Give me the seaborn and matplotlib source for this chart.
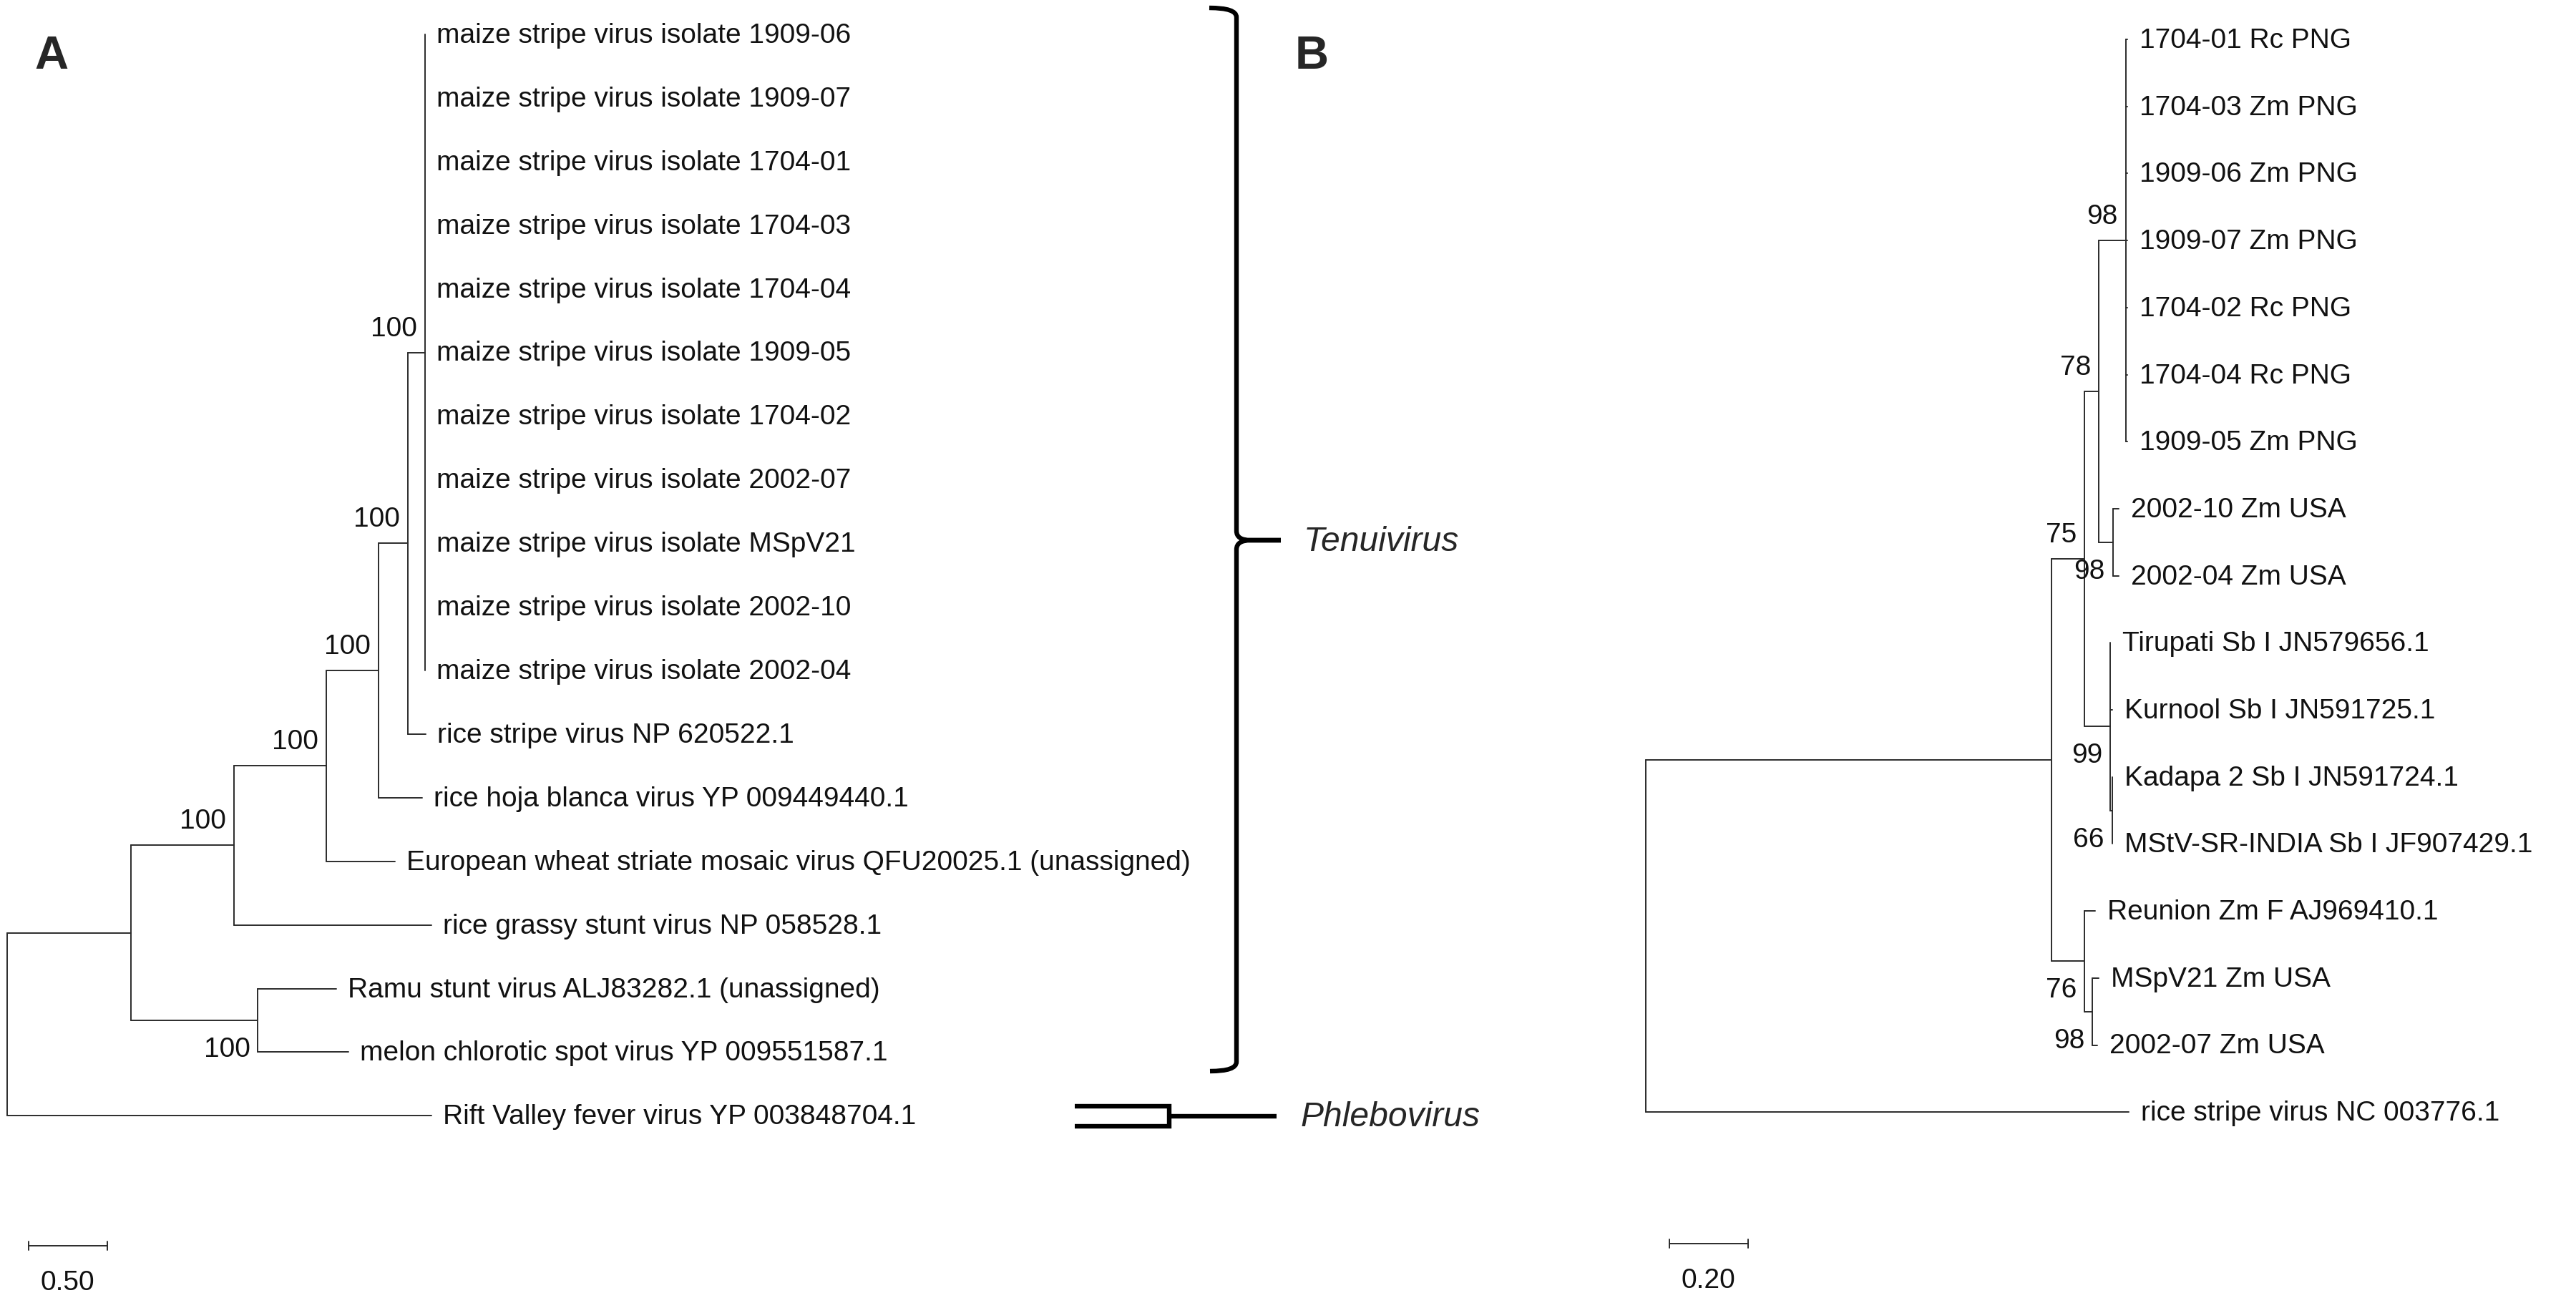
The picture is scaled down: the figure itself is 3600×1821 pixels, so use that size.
"""
Two phylogenetic trees (panels A and B) drawn with seaborn line segments.
"""

import matplotlib
matplotlib.use('Agg')
import matplotlib.pyplot as plt
from matplotlib.path import Path
from matplotlib.patches import PathPatch
import pandas as pd
import seaborn as sns

# ---- panel A data: depth = distance from the root, substitutions per site
TAXA_A = [
    'maize stripe virus isolate 1909-06', 'maize stripe virus isolate 1909-07',
    'maize stripe virus isolate 1704-01', 'maize stripe virus isolate 1704-03',
    'maize stripe virus isolate 1704-04', 'maize stripe virus isolate 1909-05',
    'maize stripe virus isolate 1704-02', 'maize stripe virus isolate 2002-07',
    'maize stripe virus isolate MSpV21', 'maize stripe virus isolate 2002-10',
    'maize stripe virus isolate 2002-04', 'rice stripe virus NP 620522.1',
    'rice hoja blanca virus YP 009449440.1',
    'European wheat striate mosaic virus QFU20025.1 (unassigned)',
    'rice grassy stunt virus NP 058528.1',
    'Ramu stunt virus ALJ83282.1 (unassigned)',
    'melon chlorotic spot virus YP 009551587.1',
    'Rift Valley fever virus YP 003848704.1',
]
TAXON_PARENT_A = ['a6'] * 11 + ['a5', 'a4', 'a3', 'a2', 'a7', 'a7', 'a0']
TAXON_DEPTH_A = [2.655] * 11 + [2.659, 2.636, 2.464, 2.695, 2.091, 2.168, 2.695]
NODES_A = ['a0', 'a1', 'a2', 'a3', 'a4', 'a5', 'a6', 'a7']
NODE_PARENT_A = [None, 'a0', 'a1', 'a2', 'a3', 'a4', 'a5', 'a1']
NODE_DEPTH_A = [0.0, 0.786, 1.441, 2.027, 2.359, 2.545, 2.655, 1.593]
NODE_SUPPORT_A = [None, None, 100, 100, 100, 100, 100, 100]
SUPPORT_BELOW_A = [False, False, False, False, False, False, False, True]
SCALE_A = 0.50

# ---- panel B data
TAXA_B = [
    '1704-01 Rc PNG', '1704-03 Zm PNG', '1909-06 Zm PNG', '1909-07 Zm PNG',
    '1704-02 Rc PNG', '1704-04 Rc PNG', '1909-05 Zm PNG', '2002-10 Zm USA',
    '2002-04 Zm USA', 'Tirupati Sb I JN579656.1', 'Kurnool Sb I JN591725.1',
    'Kadapa 2 Sb I JN591724.1', 'MStV-SR-INDIA Sb I JF907429.1',
    'Reunion Zm F AJ969410.1', 'MSpV21 Zm USA', '2002-07 Zm USA',
    'rice stripe virus NC 003776.1',
]
TAXON_PARENT_B = ['b5'] * 7 + ['b4', 'b4', 'b6', 'b6', 'b7', 'b7', 'b8', 'b9', 'b9', 'b0']
TAXON_DEPTH_B = [1.224] * 7 + [1.202, 1.202, 1.180, 1.185, 1.185, 1.185,
                               1.142, 1.151, 1.147, 1.227]
NODES_B = ['b0', 'b1', 'b2', 'b3', 'b4', 'b5', 'b6', 'b7', 'b8', 'b9']
NODE_PARENT_B = [None, 'b0', 'b1', 'b2', 'b3', 'b3', 'b2', 'b6', 'b1', 'b8']
NODE_DEPTH_B = [0.0, 1.031, 1.115, 1.151, 1.187, 1.220, 1.180, 1.185, 1.115, 1.135]
NODE_SUPPORT_B = [None, None, 75, 78, 98, 98, 99, 66, 76, 98]
SUPPORT_BELOW_B = [False, False, False, False, True, False, True, True, True, True]
SCALE_B = 0.20

# ---- layout, in pixels of the 3600x1821 picture
W, H = 3600, 1821
LINE = '#2b2b2b'
LW = 0.7
FONT = 'Liberation Sans'

sns.set_theme(style='white')
plt.rcParams['font.family'] = [FONT, 'DejaVu Sans']


def tree_segments(taxa_parent, taxa_depth, nodes, node_parent, node_depth):
    """Return a long table of tree segments and the row of every internal node."""
    depth = dict(zip(nodes, node_depth))
    tips = {n: [] for n in nodes}
    for i, p in enumerate(taxa_parent):
        tips[p].append(i)
    kids = {n: [] for n in nodes}
    for n, p in zip(nodes, node_parent):
        if p is not None:
            kids[p].append(n)

    rows = {}

    def node_row(n):
        if n not in rows:
            ys = [float(i) for i in tips[n]] + [node_row(k) for k in kids[n]]
            rows[n] = (min(ys) + max(ys)) / 2
        return rows[n]

    recs = []

    def seg(x0, y0, x1, y1):
        k = len(recs) // 2
        recs.append((k, x0, y0))
        recs.append((k, x1, y1))

    for n, p in zip(nodes, node_parent):
        ys = [float(i) for i in tips[n]] + [node_row(k) for k in kids[n]]
        seg(depth[n], min(ys), depth[n], max(ys))
        if p is not None:
            seg(depth[p], node_row(n), depth[n], node_row(n))
    for i, (p, d) in enumerate(zip(taxa_parent, taxa_depth)):
        seg(depth[p], float(i), d, float(i))
    return pd.DataFrame(recs, columns=['segment', 'distance', 'row']), rows


def draw_panel(fig, rect, root_x, px_unit, row0, row_step, panel):
    left, right = rect
    ax = fig.add_axes([left / W, 0, (right - left) / W, 1])
    ax.set_xlim((left - root_x) / px_unit, (right - root_x) / px_unit)
    ax.set_ylim((H - row0) / row_step, -row0 / row_step)

    df, rows = tree_segments(panel['taxon_parent'], panel['taxon_depth'], panel['nodes'],
                             panel['node_parent'], panel['node_depth'])
    sns.lineplot(data=df, x='distance', y='row', units='segment', estimator=None,
                 sort=False, color=LINE, lw=LW, ax=ax, legend=False)

    # taxon names sit a fixed gap after the branch tip
    for i, (name, d) in enumerate(zip(panel['taxa'], panel['taxon_depth'])):
        ax.annotate(name, (d, i), xytext=(panel['gap'], -2), textcoords='offset pixels',
                    ha='left', va='center', fontsize=panel['fs'], color='#111111')

    # bootstrap support
    for n, d, s, below in zip(panel['nodes'], panel['node_depth'],
                              panel['support'], panel['below']):
        if s is None:
            continue
        ax.annotate(str(s), (d, rows[n]), xytext=(-11, -41 if below else 33),
                    textcoords='offset pixels', ha='right', va='center',
                    fontsize=panel['fs'], color='#111111')

    # scale bar
    sx0 = (panel['bar_x'] - root_x) / px_unit
    sx1 = sx0 + panel['scale']
    sy = (panel['bar_y'] - row0) / row_step
    cap = 6 / row_step
    bar = pd.DataFrame({
        'segment': [0, 0, 1, 1, 2, 2],
        'distance': [sx0, sx1, sx0, sx0, sx1, sx1],
        'row': [sy, sy, sy - cap, sy + cap, sy - cap, sy + cap],
    })
    sns.lineplot(data=bar, x='distance', y='row', units='segment', estimator=None,
                 sort=False, color=LINE, lw=LW, ax=ax, legend=False)
    ax.annotate(f"{panel['scale']:.2f}", ((sx0 + sx1) / 2, sy), xytext=(-1, -52),
                textcoords='offset pixels', ha='center', va='center',
                fontsize=panel['fs'], color='#111111')
    ax.set_axis_off()
    return ax


fig = plt.figure(figsize=(W / 200, H / 200), dpi=200, facecolor='white')

draw_panel(fig, (0, 1800), 10, 220, 48, 88.9, {
    'taxa': TAXA_A, 'taxon_parent': TAXON_PARENT_A, 'taxon_depth': TAXON_DEPTH_A,
    'nodes': NODES_A, 'node_parent': NODE_PARENT_A, 'node_depth': NODE_DEPTH_A,
    'support': NODE_SUPPORT_A, 'below': SUPPORT_BELOW_A, 'scale': SCALE_A,
    'gap': 16, 'fs': 14.0, 'bar_x': 40, 'bar_y': 1741,
})
draw_panel(fig, (1800, 3600), 2300, 550, 55, 93.7, {
    'taxa': TAXA_B, 'taxon_parent': TAXON_PARENT_B, 'taxon_depth': TAXON_DEPTH_B,
    'nodes': NODES_B, 'node_parent': NODE_PARENT_B, 'node_depth': NODE_DEPTH_B,
    'support': NODE_SUPPORT_B, 'below': SUPPORT_BELOW_B, 'scale': SCALE_B,
    'gap': 17, 'fs': 14.0, 'bar_x': 2333, 'bar_y': 1738,
})

# annotation layer in picture pixels: brace, bracket, genus names, panel letters
over = fig.add_axes([0, 0, 1, 1])
over.set_xlim(0, W)
over.set_ylim(H, 0)
over.set_axis_off()
over.patch.set_alpha(0)

brace = Path(
    [(1690, 11), (1728, 11), (1728, 24), (1728, 742), (1728, 755), (1748, 755), (1790, 755),
     (1748, 755), (1728, 755), (1728, 768), (1728, 1484), (1728, 1497), (1691, 1497)],
    [Path.MOVETO, Path.CURVE3, Path.CURVE3, Path.LINETO, Path.CURVE3, Path.CURVE3, Path.LINETO,
     Path.LINETO, Path.CURVE3, Path.CURVE3, Path.LINETO, Path.CURVE3, Path.CURVE3],
)
over.add_patch(PathPatch(brace, fc='none', ec='black', lw=2.3))
bracket = Path(
    [(1502, 1546), (1634, 1546), (1634, 1574), (1502, 1574), (1634, 1560), (1784, 1560)],
    [Path.MOVETO, Path.LINETO, Path.LINETO, Path.LINETO, Path.MOVETO, Path.LINETO],
)
over.add_patch(PathPatch(bracket, fc='none', ec='black', lw=2.3, joinstyle='miter'))

over.text(1822, 757, 'Tenuivirus', style='italic', fontsize=17.3, ha='left', va='center')
over.text(1818, 1562, 'Phlebovirus', style='italic', fontsize=17.3, ha='left', va='center')
over.text(48, 79, 'A', fontweight='bold', fontsize=23.5, ha='left', va='center')
over.text(1810, 79, 'B', fontweight='bold', fontsize=23.5, ha='left', va='center')

fig.savefig('out.png', dpi=200, facecolor='white')
